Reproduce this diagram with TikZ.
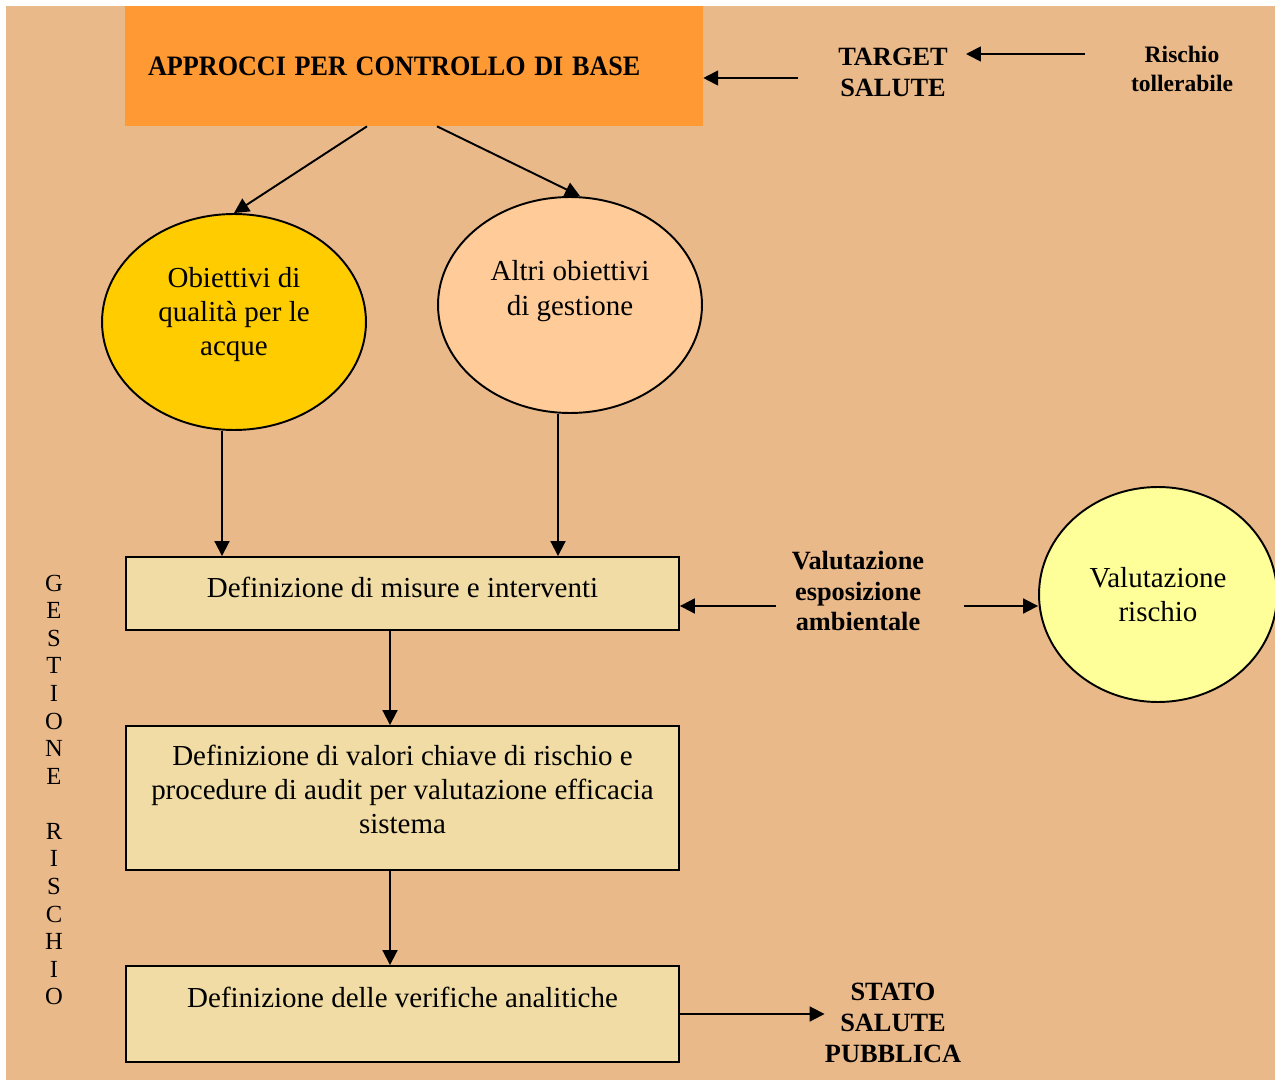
\documentclass[tikz,border=0pt]{standalone}
\usepackage{fontspec}
\setmainfont{Liberation Serif}
\usetikzlibrary{shapes.geometric,arrows.meta}
\definecolor{sfondo}{RGB}{234,185,138}
\definecolor{arancio}{RGB}{255,153,51}
\definecolor{giallo}{RGB}{255,204,0}
\definecolor{pesca}{RGB}{255,204,153}
\definecolor{giallino}{RGB}{255,255,153}
\definecolor{papiro}{RGB}{240,220,164}
\tikzset{
  freccia/.style={->,>={Triangle[length=8.5pt,width=8.5pt]},line width=1.1pt},
  testo/.style={font=\fontsize{16.5}{19.4}\selectfont,align=center},
  etichetta/.style={font=\bfseries\fontsize{15}{17.6}\selectfont,align=center,inner sep=0pt},
  bolla/.style={ellipse,draw,line width=1.1pt,testo,inner sep=0pt},
  riquadro/.style={rectangle,draw,line width=1.1pt,fill=papiro,testo,minimum width=11.06cm}
}
\begin{document}
\begin{tikzpicture}[x=0.02cm,y=-0.02cm]
  \useasboundingbox (0,0) rectangle (1275,1081);
  \fill[white] (0,0) rectangle (1275,1081);
  \fill[sfondo] (6,6) rectangle (1275,1080);
  % parte alta
  \node[fill=arancio,minimum height=2.4cm,text width=10.64cm,inner xsep=0.46cm,align=left,
    font=\bfseries\fontsize{16}{18}\selectfont] (appr) at (414,66) {\scalebox{0.93}[1]{APPROCCI PER CONTROLLO DI BASE}};
  \node[etichetta] (target) at (893,72) {TARGET\\SALUTE};
  \node[etichetta,font=\bfseries\fontsize{13.4}{16}\selectfont] (risch) at (1182,69) {Rischio\\tollerabile};
  \node[bolla,fill=giallo,minimum width=5.28cm,minimum height=4.32cm,text depth=11.6pt] (obq) at (234,322) {Obiettivi di\\qualità per le\\acque};
  \node[bolla,fill=pesca,minimum width=5.28cm,minimum height=4.32cm] (altri) at (570,305) {Altri obiettivi\\di gestione\\\mbox{}};
  % riquadri
  \node[riquadro,minimum height=1.46cm,text depth=7pt] (mis) at (402.5,593.5) {Definizione di misure e interventi};
  \node[riquadro,minimum height=2.88cm,text depth=10pt] (val) at (402.5,798) {Definizione di valori chiave di rischio e\\procedure di audit per valutazione efficacia\\sistema};
  \node[riquadro,minimum height=1.92cm] (ver) at (402.5,1014) {Definizione delle verifiche analitiche\\\mbox{}};
  \node[etichetta] (esp) at (858,591) {Valutazione\\esposizione\\ambientale};
  \node[bolla,fill=giallino,minimum width=4.76cm,minimum height=4.3cm] (risk) at (1158,594.5) {Valutazione\\rischio};
  \node[etichetta] (stato) at (893,1023) {STATO\\SALUTE\\PUBBLICA};
  \node[testo,font=\fontsize{14}{15.7}\selectfont,inner sep=0pt] (gest) at (54,790)
    {G\\E\\S\\T\\I\\O\\N\\E\\[15.7pt]R\\I\\S\\C\\H\\I\\O};
  % frecce
  \draw[freccia] ([shift={(-46,-15)}]risch.west) -- ([shift={(18,-18)}]target.east);
  \draw[freccia] ([shift={(-40,6)}]target.west) coordinate (t1) -- (t1 -| appr.east);
  \draw[freccia] ([xshift=-0.94cm]appr.south) -- (obq.north);
  \draw[freccia] ([xshift=0.46cm]appr.south) -- ([xshift=0.2cm]altri.north);
  \draw[freccia] ([xshift=-0.24cm]obq.south) coordinate (o1) -- (o1 |- mis.north);
  \draw[freccia] ([xshift=-0.24cm]altri.south) coordinate (a1) -- (a1 |- mis.north);
  \draw[freccia] ([xshift=-0.25cm]mis.south) -- ([xshift=-0.25cm]val.north);
  \draw[freccia] ([xshift=-0.25cm]val.south) -- ([xshift=-0.25cm]ver.north);
  \draw[freccia] (ver.east) -- (ver.east -| stato.west);
  \draw[freccia] ([shift={(-16,15)}]esp.west) coordinate (e1) -- (e1 -| mis.east);
  \draw[freccia] ([shift={(40,15)}]esp.east) coordinate (e2) -- (e2 -| risk.west);
\end{tikzpicture}
\end{document}
